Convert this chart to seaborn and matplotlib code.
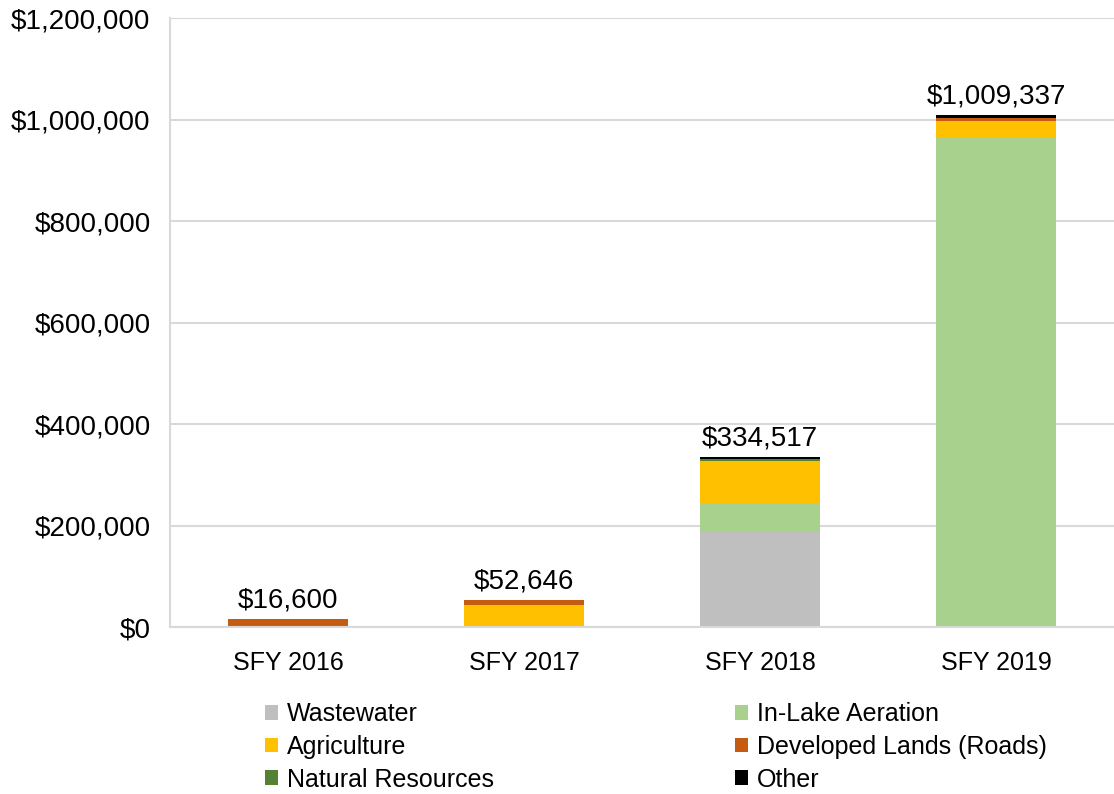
#!/usr/bin/env python3

import matplotlib
matplotlib.use("Agg")
import matplotlib.pyplot as plt
from matplotlib.patches import Patch
from matplotlib.ticker import FuncFormatter, FixedLocator
import numpy as np
import pandas as pd
import seaborn as sns

# data
years = ['SFY 2016', 'SFY 2017', 'SFY 2018', 'SFY 2019']
wastewater = [0, 0, 190000, 0]
aeration = [0, 0, 54000, 963837]
agriculture = [0, 43000, 84000, 34000]
developed = [16600, 9646, 0, 4500]
natural = [0, 0, 2500, 0]
other = [0, 0, 4017, 7000]
totals = [16600, 52646, 334517, 1009337]

series = ['Wastewater', 'In-Lake Aeration', 'Agriculture',
          'Developed Lands (Roads)', 'Natural Resources', 'Other']
colors = ['#BFBFBF', '#A9D18E', '#FFC000', '#C55A11', '#548235', '#000000']

df = pd.DataFrame({'year': years, 'Wastewater': wastewater,
                   'In-Lake Aeration': aeration, 'Agriculture': agriculture,
                   'Developed Lands (Roads)': developed,
                   'Natural Resources': natural, 'Other': other})

sns.set_style("white")
plt.rcParams['font.family'] = ['Liberation Sans', 'DejaVu Sans']
plt.rcParams['text.color'] = 'black'
plt.rcParams['xtick.color'] = 'black'
plt.rcParams['ytick.color'] = 'black'

fig = plt.figure(figsize=(11.14, 7.94), dpi=100)
ax = fig.add_axes([0.1526, 0.2103, 0.8474, 0.767])

# stacked bars: draw cumulative sums from the top layer down
cum = df[series].cumsum(axis=1)
for s, c in reversed(list(zip(series, colors))):
    sns.barplot(x=df['year'], y=cum[s], color=c, saturation=1, width=0.51,
                linewidth=0, ax=ax)

for i, t in enumerate(totals):
    ax.annotate('${:,}'.format(t), (i, t), xytext=(0, 4),
                textcoords='offset points', ha='center', va='bottom',
                fontsize=20)

ax.set_ylim(0, 1200000)
ax.set_xlim(-0.5, 3.5)
ax.set_yticks(np.arange(0, 1200001, 200000))
ax.yaxis.set_major_formatter(FuncFormatter(lambda v, p: '${:,.0f}'.format(v)))
ax.xaxis.set_minor_locator(FixedLocator([0.5, 1.5, 2.5]))
ax.tick_params(axis='y', length=0, pad=14, labelsize=20, labelcolor='black')
ax.tick_params(axis='x', which='major', length=0, pad=17, labelsize=18,
               labelcolor='black')
ax.tick_params(axis='x', which='minor', length=7, width=1.5, color='#D9D9D9')
ax.set_xlabel('')
ax.set_ylabel('')
ax.grid(axis='y', color='#D9D9D9', linewidth=1.5)
ax.set_axisbelow(True)
for sp in ['top', 'right']:
    ax.spines[sp].set_visible(False)
for sp in ['left', 'bottom']:
    ax.spines[sp].set_color('#D9D9D9')
    ax.spines[sp].set_linewidth(1.5)

# legend in two columns, filled row by row
handles = [Patch(facecolor=c, edgecolor='none') for c in colors]
leg_kw = dict(loc='upper left', frameon=False, borderpad=0, borderaxespad=0,
              handlelength=0.52, handleheight=0.52, handletextpad=0.36,
              labelspacing=0.35, fontsize=18, labelcolor='black')
for col, x0 in enumerate([0.2379, 0.6598]):
    leg = fig.legend(handles[col::2], series[col::2],
                     bbox_to_anchor=(x0, 0.1157), **leg_kw)

plt.savefig('out.png', dpi=100)
